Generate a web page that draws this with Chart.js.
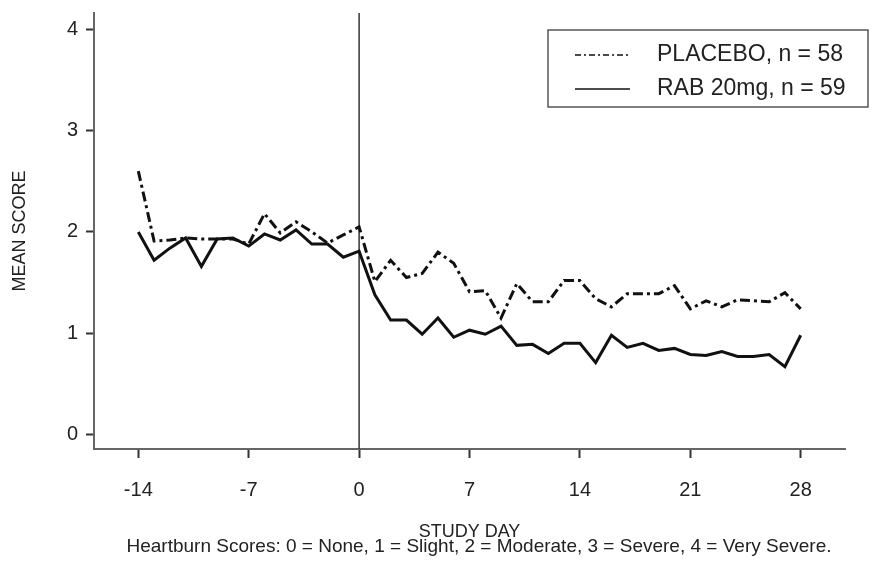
<!DOCTYPE html>
<html>
<head>
<meta charset="utf-8">
<title>Heartburn mean score by study day</title>
<script src="https://cdn.jsdelivr.net/npm/chart.js@4/dist/chart.umd.min.js"></script>
<style>
  body { margin: 0; background: #fff; }
  canvas { display: block; }
</style>
</head>
<body>
<canvas id="scoreChart" width="896" height="565"></canvas>
<script>
// Study days on the x axis
const studyDays = [-14, -13, -12, -11, -10, -9, -8, -7, -6, -5, -4, -3, -2, -1, 0,
  1, 2, 3, 4, 5, 6, 7, 8, 9, 10, 11, 12, 13, 14, 15, 16, 17, 18, 19, 20, 21,
  22, 23, 24, 25, 26, 27, 28];

// Mean heartburn score, placebo group
const placeboScores = [2.60, 1.91, 1.92, 1.94, 1.93, 1.93, 1.93, 1.88, 2.18, 1.99, 2.10, 2.00, 1.89, 1.97, 2.05,
  1.51, 1.72, 1.55, 1.59, 1.80, 1.69, 1.41, 1.42, 1.15, 1.49, 1.31, 1.31, 1.52, 1.52, 1.34,
  1.26, 1.39, 1.39, 1.39, 1.47, 1.24, 1.32, 1.26, 1.33, 1.32, 1.31, 1.40, 1.24];

// Mean heartburn score, RAB 20mg group
const rabScores = [2.00, 1.72, 1.84, 1.94, 1.66, 1.93, 1.94, 1.86, 1.98, 1.92, 2.02, 1.88, 1.88, 1.75, 1.81,
  1.38, 1.13, 1.13, 0.99, 1.15, 0.96, 1.03, 0.99, 1.07, 0.88, 0.89, 0.80, 0.90, 0.90, 0.71,
  0.98, 0.86, 0.90, 0.83, 0.85, 0.79, 0.78, 0.82, 0.77, 0.77, 0.79, 0.67, 0.98];

// Tick labels
const xTicks = [-14, -7, 0, 7, 14, 21, 28];
const yTicks = [0, 1, 2, 3, 4];

const seriesLabels = ['PLACEBO, n = 58', 'RAB 20mg, n = 59'];
const footnote = 'Heartburn Scores: 0 = None, 1 = Slight, 2 = Moderate, 3 = Severe, 4 = Very Severe.';

const textColor = '#222';
const axisColor = '#666';
const lineColor = '#111';
const placeboDash = [10, 4, 3, 4];

Chart.defaults.font.family = "'Liberation Sans', Arial, sans-serif";
Chart.defaults.color = textColor;

// Turn the arrays into {x, y} points
function toPoints(values) {
  return studyDays.map((d, i) => ({ x: d, y: values[i] }));
}

// No extra room for edge labels, so the plot box sits where the layout padding says
function noEdgePadding(scale) {
  scale.paddingTop = 0;
  scale.paddingBottom = 0;
  scale.paddingLeft = 0;
  scale.paddingRight = 0;
}

// Draws the vertical line at day 0, the boxed legend and the footnote
const decorations = {
  id: 'decorations',
  beforeDatasetsDraw(chart) {
    const { ctx, chartArea, scales } = chart;
    const x0 = scales.x.getPixelForValue(0);
    ctx.save();
    ctx.strokeStyle = '#333';
    ctx.lineWidth = 1.5;
    ctx.beginPath();
    ctx.moveTo(x0, chartArea.top);
    ctx.lineTo(x0, chartArea.bottom);
    ctx.stroke();
    ctx.restore();
  },
  afterDraw(chart) {
    const ctx = chart.ctx;
    ctx.save();

    // legend box
    ctx.fillStyle = '#fff';
    ctx.fillRect(548, 30, 320, 77);
    ctx.strokeStyle = '#555';
    ctx.lineWidth = 1.5;
    ctx.strokeRect(548, 30, 320, 77);

    const rows = [55, 89];
    chart.data.datasets.forEach((ds, i) => {
      ctx.strokeStyle = lineColor;
      ctx.lineWidth = 1.5;
      ctx.setLineDash(i === 0 ? [6, 3, 2, 3] : []);
      ctx.beginPath();
      ctx.moveTo(575, rows[i]);
      ctx.lineTo(630, rows[i]);
      ctx.stroke();
      ctx.setLineDash([]);

      ctx.fillStyle = textColor;
      ctx.font = "23px 'Liberation Sans', Arial, sans-serif";
      ctx.textAlign = 'left';
      ctx.textBaseline = 'middle';
      ctx.fillText(ds.label, 657, rows[i]);
    });

    // footnote under the axis title
    ctx.font = "19px 'Liberation Sans', Arial, sans-serif";
    ctx.textAlign = 'center';
    ctx.textBaseline = 'middle';
    ctx.fillStyle = textColor;
    ctx.fillText(footnote, 479, 547);
    ctx.restore();
  }
};

new Chart(document.getElementById('scoreChart'), {
  type: 'line',
  data: {
    datasets: [
      {
        label: seriesLabels[0],
        data: toPoints(placeboScores),
        borderColor: lineColor,
        borderWidth: 3,
        borderDash: placeboDash,
        pointRadius: 0,
        tension: 0,
        fill: false
      },
      {
        label: seriesLabels[1],
        data: toPoints(rabScores),
        borderColor: lineColor,
        borderWidth: 3,
        pointRadius: 0,
        tension: 0,
        fill: false
      }
    ]
  },
  options: {
    responsive: false,
    animation: false,
    devicePixelRatio: 1,
    layout: { padding: { top: 13, right: 51, left: 0, bottom: 0 } },
    plugins: {
      legend: { display: false },
      tooltip: { enabled: false }
    },
    scales: {
      x: {
        type: 'linear',
        min: -16.81,
        max: 30.81,
        afterBuildTicks: (scale) => { scale.ticks = xTicks.map(v => ({ value: v })); },
        afterFit: (scale) => { scale.height = 116; noEdgePadding(scale); },
        grid: { drawOnChartArea: false, tickLength: 9, tickColor: '#333', tickWidth: 2 },
        border: { color: axisColor, width: 2 },
        ticks: { font: { size: 20 }, padding: 20, color: textColor, maxRotation: 0 },
        title: {
          display: true,
          text: 'STUDY DAY',
          font: { size: 18 },
          color: textColor,
          padding: { top: 0, bottom: 22 }
        }
      },
      y: {
        type: 'linear',
        min: -0.143,
        max: 4.161,
        afterBuildTicks: (scale) => { scale.ticks = yTicks.map(v => ({ value: v })); },
        afterFit: (scale) => { scale.width = 94; noEdgePadding(scale); },
        grid: { drawOnChartArea: false, tickLength: 8, tickColor: '#333', tickWidth: 2 },
        border: { color: axisColor, width: 2 },
        ticks: { font: { size: 20 }, padding: 8, color: textColor },
        title: {
          display: true,
          text: 'MEAN SCORE',
          font: { size: 18 },
          color: textColor,
          padding: { top: 9, bottom: 0 }
        }
      }
    }
  },
  plugins: [decorations]
});
</script>
</body>
</html>
